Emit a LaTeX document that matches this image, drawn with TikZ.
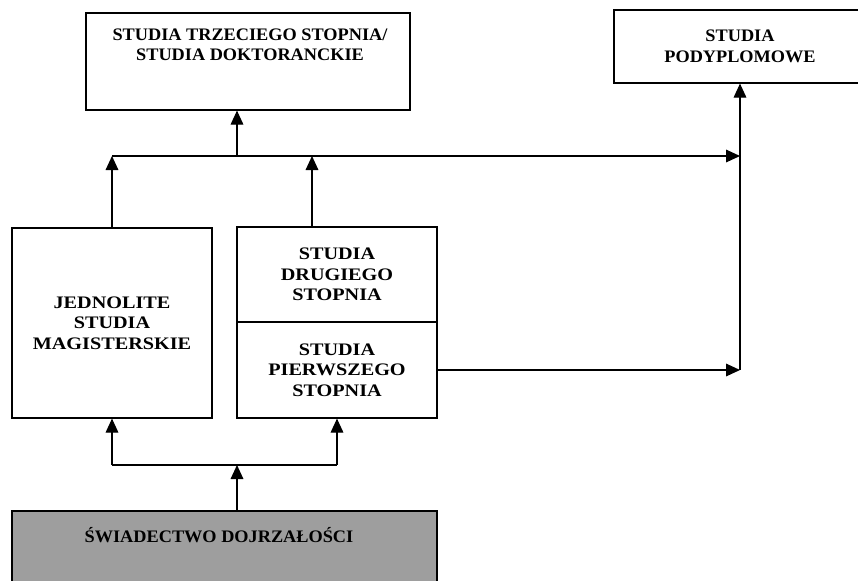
\documentclass[tikz,border=0pt]{standalone}
\usepackage{fontspec}
\setmainfont{Liberation Serif}[FakeStretch=1.04]
\newfontfamily\widefont{Liberation Serif}[FakeStretch=1.15]
\usetikzlibrary{arrows.meta}

\begin{document}
\begin{tikzpicture}[->, >={Triangle[length=0.42cm,width=0.38cm]}, x=0.03cm, y=-0.03cm, line width=1pt]
\useasboundingbox (0,0) rectangle (858,580);
\tikzstyle{every node} = [draw, rectangle, align=center, inner sep=0pt, font=\fontsize{15}{17.5}\selectfont\bfseries]
\tikzstyle{wide} = [font=\widefont\fontsize{15}{17.5}\selectfont\bfseries]
\node[minimum width=9.72cm, minimum height=2.91cm] (dr) at (248,61.5) {};
\node[minimum width=7.56cm, minimum height=2.19cm] (pod) at (740,46.5) {STUDIA\\PODYPLOMOWE};
\node[wide, minimum width=6cm, minimum height=5.7cm] (jm) at (112,323) {JEDNOLITE\\STUDIA\\MAGISTERSKIE};
\node[wide, minimum width=6cm, minimum height=2.85cm] (s2) at (337,274.5) {STUDIA\\DRUGIEGO\\STOPNIA};
\node[wide, minimum width=6cm, minimum height=2.88cm] (s1) at (337,370) {STUDIA\\PIERWSZEGO\\STOPNIA};
\node[fill=black!38, minimum width=12.75cm, minimum height=3cm] (sw) at (224.5,561) {};
\tikzstyle{every node} = [align=center, inner sep=0pt, font=\fontsize{15}{17.5}\selectfont\bfseries]
\node[anchor=north] (drt) at (250,28) {STUDIA TRZECIEGO STOPNIA/\\STUDIA DOKTORANCKIE};
\node[anchor=base] (swt) at (219,542) {ŚWIADECTWO DOJRZAŁOŚCI};
\coordinate (jl) at (112,156);
\coordinate (jc) at (237,156);
\coordinate (jr) at (312,156);
\coordinate (pe) at (pod.south |- jl);
\coordinate (pb) at (pod.south |- s1.east);
\coordinate (bl) at (112,465);
\coordinate (bc) at (237,465);
\coordinate (br) at (337,465);
\draw (jm.north) -- (jl);
\draw (jr |- s2.north) -- (jr);
\draw (jl) -- (pe);
\draw (jc) -- (jc |- dr.south);
\draw (s1.east) -- (pb);
\draw (pb) -- (pod.south);
\draw (bc |- sw.north) -- (bc);
\draw[-] (bl) -- (br);
\draw (bl) -- (jm.south);
\draw (br) -- (s1.south);
\end{tikzpicture}
\end{document}
